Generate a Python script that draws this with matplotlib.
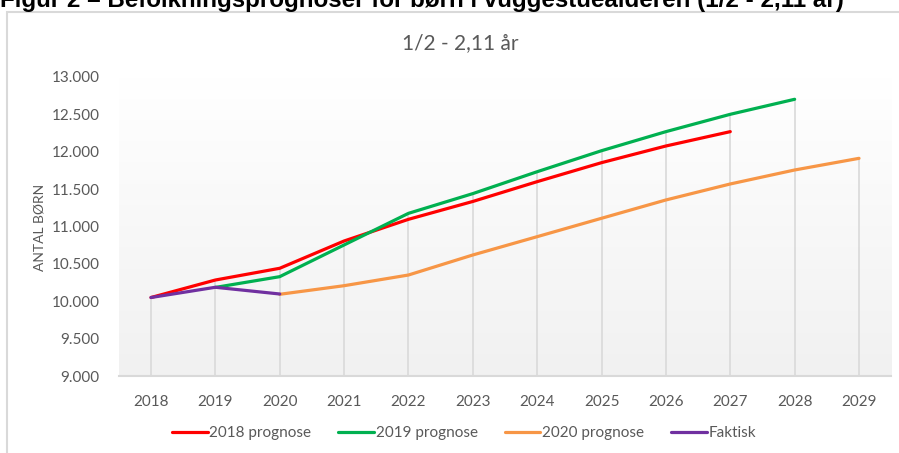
import numpy as np
import matplotlib
matplotlib.use("Agg")
import matplotlib.pyplot as plt
from matplotlib.patches import Rectangle
from matplotlib.ticker import FuncFormatter

# data
years = [2018, 2019, 2020, 2021, 2022, 2023, 2024, 2025, 2026, 2027, 2028, 2029]
prog_2018 = [10050, 10284, 10441, 10806, 11096, 11335, 11600, 11854, 12077, 12269, None, None]
prog_2019 = [None, 10185, 10329, 10753, 11176, 11440, 11733, 12014, 12269, 12501, 12702, None]
prog_2020 = [None, None, 10093, 10208, 10351, 10619, 10864, 11110, 11355, 11569, 11756, 11912]
faktisk = [10050, 10187, 10097, None, None, None, None, None, None, None, None, None]

series_names = ["2018 prognose", "2019 prognose", "2020 prognose", "Faktisk"]
series_colors = ["#ff0000", "#00b050", "#f79646", "#7030a0"]

W, H = 899, 453
grey = "#595959"
plt.rcParams['font.family'] = ['Lato', 'DejaVu Sans']

fig = plt.figure(figsize=(W / 100, H / 100), dpi=100)

# outer chart frame
fig.add_artist(Rectangle((7 / W, -0.1), 1.2, (H - 12) / H + 0.1, transform=fig.transFigure,
                         fill=False, edgecolor="#d9d9d9", linewidth=1.5))

# header, partly cut off at the top like in the source
hdr = fig.text(0.0, (H - 7) / H, "Figur 2 \u2013 Befolkningsprognoser for børn i vuggestuealderen (1/2 - 2,11 år)",
               family=['Liberation Sans', 'DejaVu Sans'], fontweight='bold', fontsize=14,
               va='baseline', ha='left', color='black')
r = fig.canvas.get_renderer()
w = hdr.get_window_extent(r).width
hdr.set_fontsize(14 * 845 / w)

fig.text(460 / W, (H - 43) / H, "1/2 - 2,11 år", ha='center', va='center', fontsize=15, color=grey)
fig.text(40 / W, (H - 227) / H, "ANTAL BØRN", ha='center', va='center', rotation=90, fontsize=10, color=grey)

ax = fig.add_axes([118.8 / W, (H - 376) / H, (891.2 - 118.8) / W, 299 / H])
ax.set_xlim(2017.5, 2029.5)
ax.set_ylim(9000, 13000)

# plot area gradient: white at the top -> light grey at the bottom
grad = np.linspace(1.0, 0.0, 256).reshape(-1, 1)
top = np.array([1.0, 1.0, 1.0])
bot = np.array([0.945, 0.945, 0.945])
img = bot + (top - bot) * grad[..., None]
ax.imshow(img, extent=[2017.5, 2029.5, 9000, 13000], aspect='auto', zorder=0, origin='upper')

all_series = [prog_2018, prog_2019, prog_2020, faktisk]
arr = [np.array([np.nan if v is None else v for v in s], dtype=float) for s in all_series]

# drop lines up to the highest value in each year
top_vals = np.nanmax(np.vstack(arr), axis=0)
ax.vlines(years, 9000, top_vals, color="#d9d9d9", linewidth=1.2, zorder=1)

for vals, name, col in zip(arr, series_names, series_colors):
    ax.plot(years, vals, color=col, linewidth=2.3, label=name, zorder=3, solid_capstyle='round')

for s in ['top', 'left', 'right']:
    ax.spines[s].set_visible(False)
ax.spines['bottom'].set_color("#d9d9d9")
ax.spines['bottom'].set_linewidth(1.5)

ax.set_xticks(years)
ax.set_yticks(np.arange(9000, 13001, 500))
ax.yaxis.set_major_formatter(FuncFormatter(lambda v, p: f"{int(v):,}".replace(",", ".")))
ax.tick_params(axis='both', length=0, labelsize=11, colors=grey)
ax.tick_params(axis='y', pad=14)
ax.tick_params(axis='x', pad=14)

handles, labels = ax.get_legend_handles_labels()
fig.legend(handles, labels, loc='center', bbox_to_anchor=(464 / W, (H - 433) / H), ncol=4,
           frameon=False, fontsize=11, labelcolor=grey, handlelength=2.35, handletextpad=0.12,
           columnspacing=1.75)

fig.savefig("out.png", dpi=100)
